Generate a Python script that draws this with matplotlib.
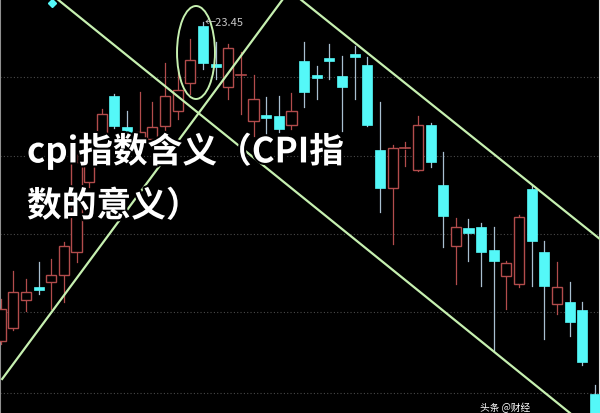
import matplotlib
matplotlib.use("Agg")
import matplotlib.pyplot as plt
from matplotlib.patches import Rectangle, Ellipse
import matplotlib.patheffects as pe

plt.rcParams['font.family'] = ['Noto Sans CJK SC', 'DejaVu Sans']

# 日K线数据
opens = [17.07, 17.33, 17.89, 18.15, 18.25, 18.39, 18.85, 20.25, 21.17, 21.97,
         21.35, 21.11, 21.11, 21.37, 21.67, 22.23, 23.37, 22.61, 22.15, 22.37,
         21.47, 21.59, 21.57, 21.39, 22.67, 22.39, 22.73, 22.37, 22.81, 22.59,
         20.89, 20.13, 20.89, 20.49, 21.39, 20.19, 18.97, 19.33, 19.35, 18.89,
         18.37, 18.21, 20.11, 18.85, 17.81, 17.85, 17.69, 16.01]
closes = [17.71, 18.05, 18.05, 18.11, 18.39, 18.97, 20.65, 20.85, 21.61, 21.37,
          21.11, 21.25, 21.35, 21.97, 22.09, 22.69, 22.63, 22.55, 22.93, 22.39,
          21.91, 21.55, 21.31, 21.67, 22.05, 22.35, 22.69, 22.15, 22.77, 21.39,
          20.13, 20.93, 20.93, 21.39, 20.65, 19.57, 19.35, 19.23, 18.85, 18.67,
          18.63, 19.55, 19.07, 18.17, 18.15, 17.45, 16.65, 15.51]
highs = [17.91, 18.47, 18.31, 18.65, 18.71, 19.05, 20.85, 21.11, 21.71, 22.01,
         21.67, 22.05, 21.85, 22.63, 22.51, 23.11, 23.45, 23.05, 23.01, 22.85,
         22.39, 21.95, 21.97, 22.03, 23.05, 22.57, 23.01, 22.77, 22.97, 22.75,
         21.85, 20.99, 21.05, 21.57, 21.43, 20.85, 19.53, 19.51, 19.43, 19.35,
         18.67, 19.59, 20.19, 19.07, 18.65, 18.25, 17.85, 16.19]
lows = [17.01, 17.29, 17.67, 18.01, 17.71, 17.85, 18.65, 20.15, 21.07, 21.33,
        21.01, 20.91, 21.01, 21.21, 21.51, 22.01, 22.51, 22.31, 21.91, 21.61,
        21.17, 21.19, 21.25, 21.31, 21.75, 21.91, 22.31, 21.27, 21.91, 21.37,
        19.65, 19.01, 20.57, 20.47, 20.55, 18.95, 18.21, 18.67, 18.17, 16.87,
        17.71, 18.15, 18.17, 17.11, 17.61, 17.17, 16.59, 15.40]

grid_levels = [22.35, 20.77, 19.21, 17.65, 16.03]

# 趋势线 (K线序号, 价格)
trend_down = [(4.47, 23.91), (45.02, 15.63)]
trend_up = [(0.12, 16.31), (22.33, 23.91)]
trend_top = [(23.68, 23.91), (47.39, 19.11)]

peak_idx = 16
peak_label = "23.45"

title_line1 = "cpi指数含义（CPI指"
title_line2 = "数的意义）"
watermark = "头条 @财经"

UP = '#b24c4c'
DOWN = '#54f8f8'
DOWN_WICK = '#a8bfd0'
LINE = '#c6f0b0'

fig = plt.figure(figsize=(6, 4.14), dpi=100, facecolor='black')
ax = fig.add_axes([0, 0, 1, 1])
ax.set_facecolor('black')
ax.set_xlim(-0.05, 47.4)
ax.set_ylim(15.63, 23.91)

for lv in grid_levels:
    ax.axhline(lv, color='#4a4a4a', lw=0.8, ls=(0, (1, 2)), zorder=1)

w = 0.8
for i in range(len(opens)):
    o, c, h, l = opens[i], closes[i], highs[i], lows[i]
    top, bot = max(o, c), min(o, c)
    if c >= o:
        ax.plot([i, i], [top, h], color=UP, lw=0.9, zorder=2)
        ax.plot([i, i], [l, bot], color=UP, lw=0.9, zorder=2)
        if top - bot < 0.05:
            ax.plot([i - w / 2, i + w / 2], [top, top], color=UP, lw=1.2, zorder=3)
        else:
            ax.add_patch(Rectangle((i - w / 2, bot), w, top - bot, facecolor='black',
                                   edgecolor=UP, lw=1.0, zorder=3))
    else:
        ax.plot([i, i], [l, h], color=DOWN_WICK, lw=0.9, zorder=2)
        hgt = max(top - bot, 0.05)
        ax.add_patch(Rectangle((i - w / 2, top - hgt), w, hgt, facecolor=DOWN,
                               edgecolor=DOWN, lw=0.5, zorder=3))

for seg in (trend_down, trend_up, trend_top):
    xs = [p[0] for p in seg]
    ys = [p[1] for p in seg]
    ax.plot(xs, ys, color=LINE, lw=1.6, zorder=4)

ax.add_patch(Ellipse((15.45, 22.84), 3.0, 1.86, fill=False, edgecolor=LINE, lw=1.4, zorder=4))

ax.text(peak_idx + 0.15, highs[peak_idx], "←" + peak_label, color='#c8c8c8', fontsize=8,
        ha='left', va='center', zorder=5)
ax.plot([4.07], [23.83], marker='D', ms=4, color=DOWN, zorder=5)

stroke = [pe.withStroke(linewidth=3, foreground='black')]
ax.text(0.045, 0.633, title_line1, transform=ax.transAxes, color='white', fontsize=25,
        ha='left', va='center', fontweight='bold', path_effects=stroke, zorder=6)
ax.text(0.045, 0.5, title_line2, transform=ax.transAxes, color='white', fontsize=25,
        ha='left', va='center', fontweight='bold', path_effects=stroke, zorder=6)
ax.text(0.80, 0.002, watermark, transform=ax.transAxes, color='white', fontsize=7,
        ha='left', va='bottom', zorder=6)

ax.set_xticks([])
ax.set_yticks([])
for s in ('top', 'bottom'):
    ax.spines[s].set_visible(False)
ax.spines['left'].set_color('#909090')
ax.spines['right'].set_color('#e0e0e0')
ax.spines['left'].set_linewidth(1.5)
ax.spines['right'].set_linewidth(1.5)

fig.savefig('out.png', dpi=100, facecolor='black')
